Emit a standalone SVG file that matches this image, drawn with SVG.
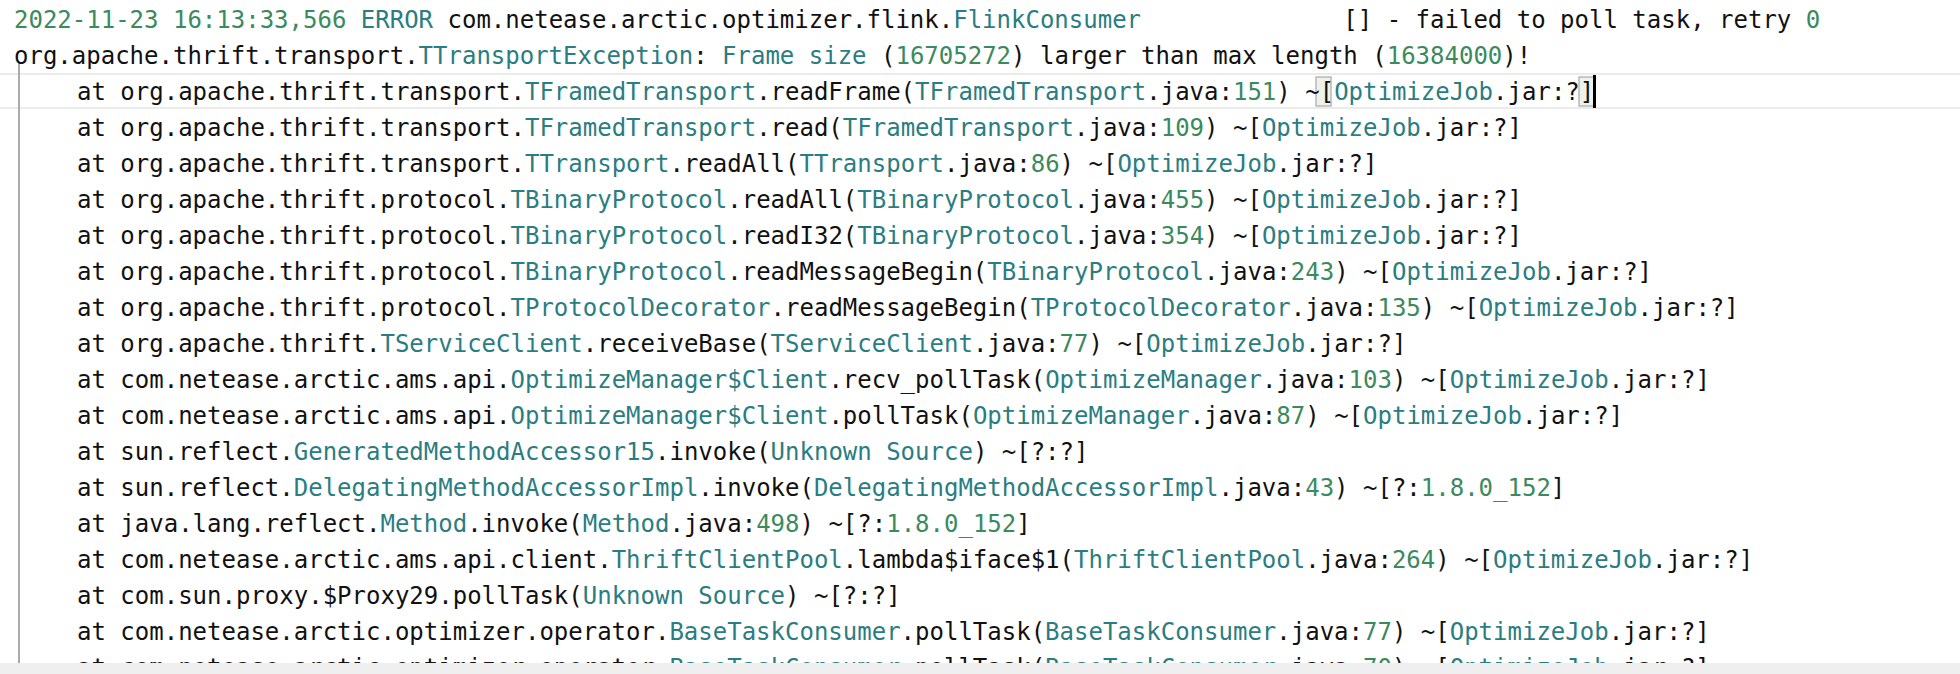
<svg xmlns="http://www.w3.org/2000/svg" width="1960" height="674" viewBox="0 0 1960 674">
<style>
text{font-family:"DejaVu Sans Mono","Liberation Mono",monospace;font-size:24px;fill:#111;white-space:pre}
.g{fill:#3b8a5e}.t{fill:#2a7d80}
</style>
<rect width="1960" height="674" fill="#fff"/>
<rect x="0" y="73" width="1960" height="2" fill="#ebebeb"/>
<rect x="0" y="107" width="1960" height="2" fill="#ebebeb"/>
<rect x="1316" y="77" width="15" height="29" fill="#eef3ea" stroke="#b8b8b8" stroke-width="1.5"/>
<rect x="1579" y="77" width="15" height="29" fill="#eef3ea" stroke="#b8b8b8" stroke-width="1.5"/>
<rect x="1593" y="75" width="3" height="33" fill="#000"/>
<rect x="18" y="62" width="2" height="601" fill="#aaa"/>
<g id="log">
<text x="14" y="28" xml:space="preserve"><tspan class="g">2022-11-23 16:13:33,566</tspan> <tspan class="t">ERROR</tspan> com.netease.arctic.optimizer.flink.<tspan class="t">FlinkConsumer</tspan>              [] - failed to poll task, retry <tspan class="g">0</tspan></text>
<text x="14" y="64" xml:space="preserve">org.apache.thrift.transport.<tspan class="t">TTransportException</tspan>: <tspan class="t">Frame size</tspan> (<tspan class="g">16705272</tspan>) larger than max length (<tspan class="g">16384000</tspan>)!</text>
<text x="77" y="100" xml:space="preserve">at org.apache.thrift.transport.<tspan class="t">TFramedTransport</tspan>.readFrame(<tspan class="t">TFramedTransport</tspan>.java:<tspan class="g">151</tspan>) ~[<tspan class="t">OptimizeJob</tspan>.jar:?]</text>
<text x="77" y="136" xml:space="preserve">at org.apache.thrift.transport.<tspan class="t">TFramedTransport</tspan>.read(<tspan class="t">TFramedTransport</tspan>.java:<tspan class="g">109</tspan>) ~[<tspan class="t">OptimizeJob</tspan>.jar:?]</text>
<text x="77" y="172" xml:space="preserve">at org.apache.thrift.transport.<tspan class="t">TTransport</tspan>.readAll(<tspan class="t">TTransport</tspan>.java:<tspan class="g">86</tspan>) ~[<tspan class="t">OptimizeJob</tspan>.jar:?]</text>
<text x="77" y="208" xml:space="preserve">at org.apache.thrift.protocol.<tspan class="t">TBinaryProtocol</tspan>.readAll(<tspan class="t">TBinaryProtocol</tspan>.java:<tspan class="g">455</tspan>) ~[<tspan class="t">OptimizeJob</tspan>.jar:?]</text>
<text x="77" y="244" xml:space="preserve">at org.apache.thrift.protocol.<tspan class="t">TBinaryProtocol</tspan>.readI32(<tspan class="t">TBinaryProtocol</tspan>.java:<tspan class="g">354</tspan>) ~[<tspan class="t">OptimizeJob</tspan>.jar:?]</text>
<text x="77" y="280" xml:space="preserve">at org.apache.thrift.protocol.<tspan class="t">TBinaryProtocol</tspan>.readMessageBegin(<tspan class="t">TBinaryProtocol</tspan>.java:<tspan class="g">243</tspan>) ~[<tspan class="t">OptimizeJob</tspan>.jar:?]</text>
<text x="77" y="316" xml:space="preserve">at org.apache.thrift.protocol.<tspan class="t">TProtocolDecorator</tspan>.readMessageBegin(<tspan class="t">TProtocolDecorator</tspan>.java:<tspan class="g">135</tspan>) ~[<tspan class="t">OptimizeJob</tspan>.jar:?]</text>
<text x="77" y="352" xml:space="preserve">at org.apache.thrift.<tspan class="t">TServiceClient</tspan>.receiveBase(<tspan class="t">TServiceClient</tspan>.java:<tspan class="g">77</tspan>) ~[<tspan class="t">OptimizeJob</tspan>.jar:?]</text>
<text x="77" y="388" xml:space="preserve">at com.netease.arctic.ams.api.<tspan class="t">OptimizeManager$Client</tspan>.recv_pollTask(<tspan class="t">OptimizeManager</tspan>.java:<tspan class="g">103</tspan>) ~[<tspan class="t">OptimizeJob</tspan>.jar:?]</text>
<text x="77" y="424" xml:space="preserve">at com.netease.arctic.ams.api.<tspan class="t">OptimizeManager$Client</tspan>.pollTask(<tspan class="t">OptimizeManager</tspan>.java:<tspan class="g">87</tspan>) ~[<tspan class="t">OptimizeJob</tspan>.jar:?]</text>
<text x="77" y="460" xml:space="preserve">at sun.reflect.<tspan class="t">GeneratedMethodAccessor15</tspan>.invoke(<tspan class="t">Unknown Source</tspan>) ~[?:?]</text>
<text x="77" y="496" xml:space="preserve">at sun.reflect.<tspan class="t">DelegatingMethodAccessorImpl</tspan>.invoke(<tspan class="t">DelegatingMethodAccessorImpl</tspan>.java:<tspan class="g">43</tspan>) ~[?:<tspan class="g">1.8.0_152</tspan>]</text>
<text x="77" y="532" xml:space="preserve">at java.lang.reflect.<tspan class="t">Method</tspan>.invoke(<tspan class="t">Method</tspan>.java:<tspan class="g">498</tspan>) ~[?:<tspan class="g">1.8.0_152</tspan>]</text>
<text x="77" y="568" xml:space="preserve">at com.netease.arctic.ams.api.client.<tspan class="t">ThriftClientPool</tspan>.lambda$iface$1(<tspan class="t">ThriftClientPool</tspan>.java:<tspan class="g">264</tspan>) ~[<tspan class="t">OptimizeJob</tspan>.jar:?]</text>
<text x="77" y="604" xml:space="preserve">at com.sun.proxy.$Proxy29.pollTask(<tspan class="t">Unknown Source</tspan>) ~[?:?]</text>
<text x="77" y="640" xml:space="preserve">at com.netease.arctic.optimizer.operator.<tspan class="t">BaseTaskConsumer</tspan>.pollTask(<tspan class="t">BaseTaskConsumer</tspan>.java:<tspan class="g">77</tspan>) ~[<tspan class="t">OptimizeJob</tspan>.jar:?]</text>
<text x="77" y="676" xml:space="preserve">at com.netease.arctic.optimizer.operator.<tspan class="t">BaseTaskConsumer</tspan>.pollTask(<tspan class="t">BaseTaskConsumer</tspan>.java:<tspan class="g">70</tspan>) ~[<tspan class="t">OptimizeJob</tspan>.jar:?]</text>
</g>
<rect x="0" y="663" width="1960" height="11" fill="#efefef"/>
</svg>
